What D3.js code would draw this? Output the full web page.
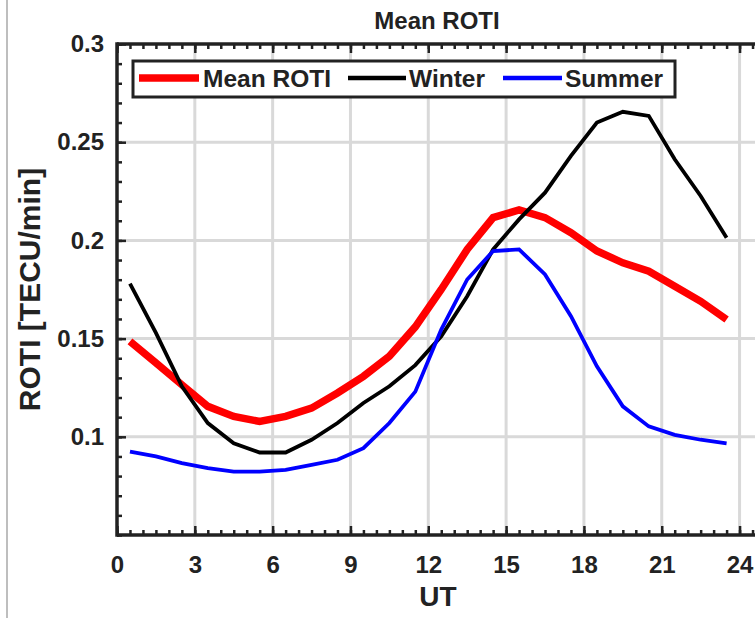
<!DOCTYPE html>
<html>
<head>
<meta charset="utf-8">
<script src="https://cdn.jsdelivr.net/npm/d3@7"></script>
<style>
  html, body { margin: 0; padding: 0; background: #fff; }
  svg { display: block; }
  text { font-family: "Liberation Sans", Arial, Helvetica, sans-serif; font-weight: bold; fill: #222; }
</style>
</head>
<body>
<svg id="chart" width="755" height="618"></svg>
<script>
// ---- data ----
const hours = [0.5, 1.5, 2.5, 3.5, 4.5, 5.5, 6.5, 7.5, 8.5, 9.5, 10.5, 11.5,
               12.5, 13.5, 14.5, 15.5, 16.5, 17.5, 18.5, 19.5, 20.5, 21.5, 22.5, 23.5];
const meanROTI = [0.1486, 0.1376, 0.1265, 0.1155, 0.1104, 0.1078, 0.1104, 0.1146, 0.1223, 0.1308, 0.1410, 0.1560,
                  0.1750, 0.1954, 0.2116, 0.2155, 0.2116, 0.2039, 0.1946, 0.1886, 0.1843, 0.1767, 0.1690, 0.1597];
const winter = [0.1780, 0.1529, 0.1257, 0.1070, 0.0967, 0.0920, 0.0920, 0.0985, 0.1070, 0.1172, 0.1257, 0.1365,
                0.1512, 0.1716, 0.1954, 0.2107, 0.2243, 0.2430, 0.2600, 0.2655, 0.2634, 0.2413, 0.2226, 0.2014];
const summer = [0.0925, 0.0900, 0.0866, 0.0840, 0.0823, 0.0823, 0.0832, 0.0857, 0.0883, 0.0942, 0.1070, 0.1230,
                0.1546, 0.1801, 0.1946, 0.1954, 0.1827, 0.1614, 0.1359, 0.1155, 0.1053, 0.1010, 0.0985, 0.0967];
const xTicks = [0, 3, 6, 9, 12, 15, 18, 21, 24];
const yTicks = [0.1, 0.15, 0.2, 0.25, 0.3];
const yTickLabels = ["0.1", "0.15", "0.2", "0.25", "0.3"];
const seriesNames = ["Mean ROTI", "Winter", "Summer"];
const seriesColors = ["#ff0000", "#000000", "#0000ff"];
const seriesWidths = [7.5, 3.8, 3.8];

// ---- layout ----
const svg = d3.select("#chart");
const pLeft = 117, pTop = 44, pBottom = 535;
const x = d3.scaleLinear().domain([0, 25.5]).range([pLeft, pLeft + 25.94 * 25.5]);
const y = d3.scaleLinear().domain([0.05, 0.3]).range([pBottom, pTop]);
const pRight = x(25.5);

// outer thin gray frame line at left
svg.append("line").attr("x1", 7).attr("x2", 7).attr("y1", 0).attr("y2", 618)
   .attr("stroke", "#a8a8a8").attr("stroke-width", 1.5);

// clip for plot
svg.append("defs").append("clipPath").attr("id", "plotclip")
   .append("rect").attr("x", pLeft).attr("y", pTop).attr("width", pRight - pLeft).attr("height", pBottom - pTop);

// grid
const grid = svg.append("g").attr("stroke", "#d9d9d9").attr("stroke-width", 3);
grid.selectAll(".gx").data(xTicks.filter(d => d > 0)).join("line")
  .attr("x1", d => x(d)).attr("x2", d => x(d)).attr("y1", pTop).attr("y2", pBottom);
grid.selectAll(".gy").data(yTicks.filter(d => d < 0.3)).join("line")
  .attr("x1", pLeft).attr("x2", pRight).attr("y1", d => y(d)).attr("y2", d => y(d));

// lines
const plot = svg.append("g").attr("clip-path", "url(#plotclip)");
const series = [meanROTI, winter, summer];
const lineGen = d3.line().x((d, i) => x(hours[i])).y(d => y(d));
series.forEach((s, k) => {
  plot.append("path").datum(s).attr("d", lineGen)
    .attr("fill", "none").attr("stroke", seriesColors[k]).attr("stroke-width", seriesWidths[k])
    .attr("stroke-linejoin", "miter").attr("stroke-miterlimit", 2);
});

// axes
const xMinor = d3.range(0, 25.5, 0.5);
const yMinor = d3.range(0.05, 0.3001, 0.01);
const axisColor = "#222";

function styleAxis(g) {
  g.select(".domain").remove();
  g.selectAll(".tick line").attr("stroke", axisColor).attr("stroke-width", 2.5);
}

svg.append("g").attr("transform", `translate(0,${pBottom})`)
  .call(d3.axisBottom(x).tickValues(xMinor).tickSize(-5).tickFormat(""))
  .call(styleAxis);
svg.append("g").attr("transform", `translate(0,${pBottom})`)
  .call(d3.axisBottom(x).tickValues(xTicks).tickSize(-9).tickPadding(21).tickFormat(d3.format("d")))
  .call(styleAxis)
  .call(g => g.selectAll("text").style("font-size", "24px").attr("fill", "#222"));
svg.append("g").attr("transform", `translate(0,${pTop})`)
  .call(d3.axisTop(x).tickValues(xMinor).tickSize(-5).tickFormat(""))
  .call(styleAxis);
svg.append("g").attr("transform", `translate(0,${pTop})`)
  .call(d3.axisTop(x).tickValues(xTicks).tickSize(-9).tickFormat(""))
  .call(styleAxis);
svg.append("g").attr("transform", `translate(${pLeft},0)`)
  .call(d3.axisLeft(y).tickValues(yMinor).tickSize(-5).tickFormat(""))
  .call(styleAxis);
svg.append("g").attr("transform", `translate(${pLeft},0)`)
  .call(d3.axisLeft(y).tickValues(yTicks).tickSize(-9).tickPadding(13)
        .tickFormat((d, i) => yTickLabels[i]))
  .call(styleAxis)
  .call(g => g.selectAll("text").style("font-size", "24px").attr("fill", "#222"));

// axis lines
const axes = svg.append("g").attr("stroke", axisColor).attr("stroke-width", 3.5).attr("fill", "none");
axes.append("line").attr("x1", pLeft).attr("x2", pRight).attr("y1", pBottom).attr("y2", pBottom);
axes.append("line").attr("x1", pLeft).attr("x2", pRight).attr("y1", pTop).attr("y2", pTop);
axes.append("line").attr("x1", pLeft).attr("x2", pLeft).attr("y1", pTop - 1.75).attr("y2", pBottom + 1.75);

// title & labels
svg.append("text").attr("x", 437).attr("y", 29).attr("text-anchor", "middle")
  .style("font-size", "24px").text("Mean ROTI");
svg.append("text").attr("x", 438).attr("y", 606).attr("text-anchor", "middle")
  .style("font-size", "28px").text("UT");
svg.append("text").attr("transform", `translate(40,${(pTop + pBottom) / 2}) rotate(-90)`)
  .attr("text-anchor", "middle").style("font-size", "30px").text("ROTI [TECU/min]");

// legend
const leg = svg.append("g");
leg.append("rect").attr("x", 133).attr("y", 61).attr("width", 542).attr("height", 36)
  .attr("fill", "#fff").attr("stroke", "#222").attr("stroke-width", 3);
const legItems = [
  { x0: 139, x1: 199, tx: 203 },
  { x0: 348, x1: 406, tx: 409 },
  { x0: 503, x1: 562, tx: 565 }
];
legItems.forEach((it, k) => {
  leg.append("line").attr("x1", it.x0).attr("x2", it.x1).attr("y1", 78).attr("y2", 78)
    .attr("stroke", seriesColors[k]).attr("stroke-width", seriesWidths[k] + (k === 0 ? 0 : 0.5));
  leg.append("text").attr("x", it.tx).attr("y", 87).style("font-size", "24.5px").text(seriesNames[k]);
});
</script>
</body>
</html>
